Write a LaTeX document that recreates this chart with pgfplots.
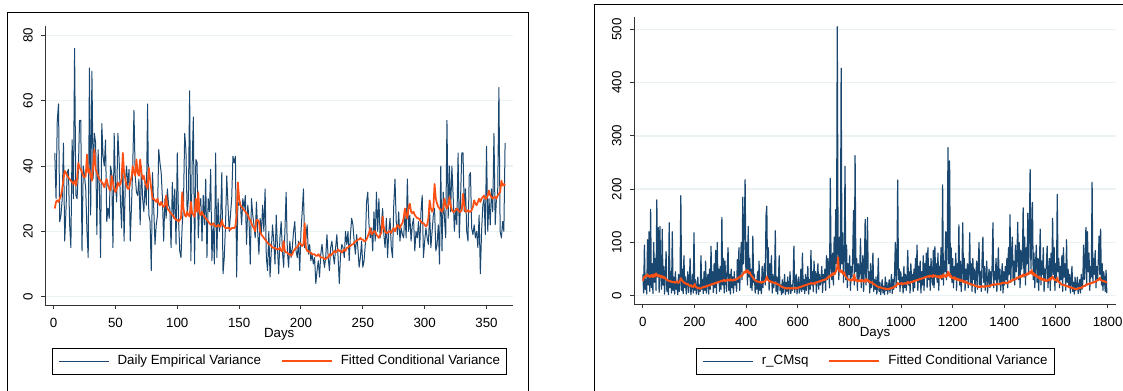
\documentclass[border=0pt]{standalone}
\usepackage{fontspec}
\setmainfont{Liberation Sans}
\usepackage{pgfplots}
\usepackage{pgfplotstable}
\pgfplotsset{compat=1.18}
\definecolor{sblue}{HTML}{1A476F}
\definecolor{sorange}{RGB}{255,80,20}
\definecolor{sgrid}{HTML}{EAF2F3}
\newcommand\fs{\fontsize{10}{12}\selectfont}

% Left panel: daily empirical variance (days 1..365)
\pgfplotstableread[row sep=\\,header=false]{
44\\30\\54\\59\\23\\25\\30\\47\\17\\26\\
38\\39\\22\\15\\48\\30\\76\\31\\30\\38\\
54\\54\\14\\40\\37\\33\\20\\12\\70\\25\\
69\\36\\50\\47\\19\\45\\34\\12\\53\\43\\
40\\48\\23\\27\\24\\40\\38\\15\\50\\35\\
29\\50\\42\\30\\21\\40\\17\\35\\40\\34\\
39\\17\\28\\40\\57\\37\\32\\31\\36\\22\\
40\\30\\26\\35\\28\\59\\25\\23\\8\\38\\
27\\16\\22\\25\\45\\41\\38\\30\\17\\30\\
24\\33\\28\\27\\15\\35\\24\\33\\16\\44\\
24\\14\\12\\22\\28\\50\\45\\25\\30\\63\\
11\\40\\55\\10\\42\\41\\18\\28\\30\\17\\
31\\22\\36\\12\\30\\26\\39\\11\\22\\10\\
44\\12\\30\\20\\23\\38\\7\\12\\22\\37\\
28\\20\\25\\30\\43\\41\\43\\6\\29\\28\\
29\\22\\30\\27\\31\\16\\28\\24\\10\\30\\
25\\22\\18\\29\\20\\13\\24\\19\\28\\20\\
33\\12\\8\\20\\6\\14\\22\\17\\10\\25\\
15\\7\\18\\23\\14\\9\\20\\32\\14\\9\\
17\\12\\15\\20\\23\\14\\12\\17\\8\\20\\
26\\33\\15\\18\\22\\13\\16\\11\\13\\10\\
12\\4\\8\\11\\6\\13\\16\\12\\9\\12\\
19\\12\\8\\15\\17\\13\\10\\15\\19\\12\\
4\\13\\16\\15\\12\\20\\16\\20\\11\\19\\
24\\22\\17\\13\\19\\15\\9\\12\\17\\9\\
11\\16\\29\\32\\22\\18\\21\\14\\26\\17\\
32\\20\\30\\18\\22\\27\\19\\15\\24\\12\\
20\\24\\15\\12\\28\\36\\23\\19\\26\\17\\
21\\19\\18\\26\\18\\36\\20\\25\\17\\22\\
24\\14\\20\\18\\23\\15\\26\\31\\12\\17\\
21\\18\\16\\26\\15\\20\\25\\27\\14\\16\\
22\\10\\40\\14\\32\\24\\18\\54\\24\\40\\
26\\40\\31\\20\\27\\22\\44\\18\\30\\44\\
44\\26\\33\\20\\17\\37\\38\\21\\19\\22\\
18\\20\\15\\25\\7\\20\\28\\30\\19\\46\\
20\\30\\22\\33\\26\\50\\22\\30\\31\\64\\
20\\18\\23\\20\\47\\
}\lblue

% Left panel: fitted conditional variance
\pgfplotstableread[row sep=\\,header=false]{
27\\29\\29.5\\29\\30\\31\\33\\36\\38.5\\38\\
37\\36.5\\36\\35.5\\35\\34.5\\35.5\\34\\36\\41\\
39.5\\39\\38\\37\\36.5\\37\\43.5\\38\\39\\37\\
35.5\\40\\45\\39\\38\\37\\36\\35.5\\35\\34.5\\
33.5\\35\\36\\34\\33\\32.5\\37\\35\\33\\32\\
33\\35\\34\\34.5\\36\\44\\38\\36\\34\\33\\
33\\35\\36.5\\40\\38\\37\\42\\38\\37\\42\\
38\\36\\37\\35\\34\\33\\39.5\\36\\33\\30\\
30\\29.5\\29\\30\\28.5\\28\\29\\28\\27.5\\28\\
31\\27\\26.5\\26\\25.5\\25\\24.5\\24\\23.5\\23.5\\
23\\23.5\\24\\32\\27\\25\\24.5\\26\\25\\24.5\\
29\\25.5\\25\\24.5\\30\\26\\32\\25.5\\25\\26\\
25\\24.5\\24\\23.5\\23\\22.5\\22\\22\\22.5\\22\\
21.5\\21.5\\22\\21.5\\21.5\\23.5\\22\\21.5\\21\\21\\
21\\21\\20.5\\21\\21\\21\\21.5\\25\\35\\30\\
28\\27.5\\27\\26.5\\26\\25.5\\25\\24\\23.5\\22.5\\
21.5\\21\\20\\23.5\\23.5\\23\\20\\19\\18.5\\18\\
17.5\\17\\16.5\\16\\16\\15.5\\15\\15\\15\\14.5\\
14.5\\14.5\\15\\14\\14\\17\\14\\13.5\\13.5\\13\\
13\\12.5\\13\\14\\14.5\\15\\15\\16\\16.5\\16\\
15.5\\16\\22.5\\15\\14\\14\\13.5\\13.5\\13\\13\\
13\\12.5\\12.5\\13\\12.5\\12\\12\\12\\11.5\\11.5\\
12\\12\\13\\12.5\\13\\13.5\\14\\13.5\\14\\14.5\\
14\\14\\13.5\\14\\14.5\\14\\15\\15\\15.5\\15.5\\
16\\16\\16.5\\17\\17\\17.5\\17.5\\18\\17.5\\17.5\\
17\\17\\17.5\\18.5\\19.5\\21\\19\\19.5\\20\\20\\
19\\18.5\\18\\19\\19.5\\24.5\\21\\20\\19.5\\19.5\\
20\\20\\19.5\\20.5\\21\\20\\21\\22\\21.5\\21\\
22\\22.5\\24\\27\\25\\24\\27.5\\28.5\\26\\25.5\\
26\\25\\24.5\\24\\24\\23.5\\23\\22.5\\22.5\\22\\
21.5\\22\\24\\29.5\\27\\26\\27\\34.5\\30\\28.5\\
27.5\\27\\26.5\\26\\27\\30\\28\\27\\28\\30.5\\
28\\26.5\\26\\26\\26.5\\27\\26.5\\26\\26\\26.5\\
31.5\\28\\26\\26\\26.5\\26\\26\\26.5\\27.5\\29.5\\
28.5\\28\\29\\30\\29\\30\\30.5\\31\\30\\30\\
31\\32.5\\31\\30.5\\30\\30.5\\30.5\\30\\31\\31.5\\
32\\35.5\\34\\34.5\\34\\
}\lorange

% Right panel: r_CMsq, every third day (days 0,3,...,1797)
\pgfplotstableread[row sep=\\,header=false]{
40\\5\\95\\12\\30\\3\\105\\20\\120\\8\\
162\\15\\60\\4\\100\\25\\70\\10\\180\\35\\
128\\6\\130\\45\\12\\125\\20\\55\\3\\40\\
83\\8\\30\\2\\137\\15\\45\\5\\120\\10\\
35\\3\\45\\12\\25\\2\\40\\8\\30\\188\\
10\\50\\4\\75\\15\\35\\3\\20\\45\\6\\
25\\70\\2\\18\\40\\5\\118\\10\\30\\3\\
15\\35\\2\\20\\8\\75\\12\\30\\4\\45\\
10\\65\\5\\28\\40\\3\\50\\12\\93\\20\\
45\\6\\60\\15\\85\\4\\100\\25\\50\\8\\
55\\12\\147\\20\\70\\5\\65\\30\\8\\55\\
90\\10\\40\\3\\50\\15\\35\\5\\45\\20\\
30\\8\\68\\25\\90\\10\\60\\100\\30\\185\\
60\\120\\218\\45\\100\\20\\130\\35\\70\\15\\
50\\10\\112\\25\\40\\5\\30\\12\\45\\3\\
65\\10\\25\\4\\55\\15\\40\\60\\20\\150\\
168\\30\\90\\10\\60\\25\\75\\5\\40\\15\\
30\\122\\8\\35\\3\\25\\75\\10\\20\\2\\
30\\5\\18\\40\\2\\25\\8\\35\\3\\15\\
45\\4\\20\\10\\30\\93\\6\\25\\40\\3\\
20\\35\\5\\15\\50\\8\\80\\12\\30\\4\\
40\\10\\25\\55\\3\\30\\12\\85\\20\\45\\
8\\65\\25\\45\\5\\35\\60\\12\\40\\20\\
30\\55\\6\\40\\25\\50\\10\\75\\30\\70\\
45\\15\\220\\60\\30\\80\\20\\110\\40\\162\\
60\\505\\80\\30\\110\\45\\427\\60\\118\\25\\
70\\243\\30\\95\\15\\60\\40\\75\\10\\55\\
35\\80\\160\\20\\263\\45\\70\\10\\60\\30\\
50\\107\\15\\40\\75\\8\\55\\143\\20\\60\\
147\\25\\45\\5\\60\\15\\35\\80\\8\\30\\
12\\35\\3\\20\\70\\8\\25\\2\\15\\30\\
5\\18\\2\\35\\10\\25\\3\\15\\30\\6\\
20\\40\\4\\30\\12\\45\\100\\15\\50\\217\\
30\\50\\8\\45\\20\\35\\5\\55\\15\\40\\
10\\30\\85\\20\\45\\5\\60\\25\\40\\8\\
50\\15\\70\\30\\95\\10\\55\\25\\65\\5\\
45\\20\\75\\10\\60\\35\\80\\15\\90\\30\\
55\\10\\70\\40\\20\\85\\15\\92\\35\\60\\
25\\80\\10\\55\\40\\90\\30\\208\\20\\65\\
45\\120\\30\\100\\278\\60\\253\\40\\90\\25\\
70\\15\\55\\35\\80\\10\\60\\30\\133\\20\\
65\\8\\45\\137\\25\\70\\10\\50\\30\\60\\
15\\45\\118\\20\\60\\8\\70\\30\\50\\5\\
40\\65\\12\\55\\100\\20\\45\\8\\70\\110\\
25\\55\\10\\40\\65\\5\\30\\50\\15\\45\\
20\\60\\137\\15\\45\\30\\70\\8\\40\\90\\
25\\50\\10\\35\\60\\5\\45\\20\\55\\30\\
70\\15\\90\\40\\152\\25\\80\\110\\30\\65\\
20\\95\\45\\75\\138\\30\\100\\15\\85\\50\\
70\\165\\35\\110\\20\\90\\60\\155\\40\\120\\
237\\50\\110\\175\\30\\80\\15\\60\\95\\25\\
70\\10\\55\\125\\20\\65\\40\\90\\8\\50\\
30\\60\\93\\15\\45\\70\\10\\80\\35\\145\\
40\\90\\10\\60\\25\\190\\45\\70\\15\\55\\
30\\75\\8\\90\\35\\60\\10\\105\\25\\50\\
15\\40\\5\\30\\55\\8\\25\\3\\35\\10\\
20\\35\\4\\15\\30\\5\\40\\12\\25\\95\\
30\\60\\128\\20\\120\\45\\80\\10\\55\\35\\
213\\25\\70\\40\\85\\15\\55\\30\\65\\112\\
40\\125\\20\\60\\10\\45\\30\\8\\48\\5\\
}\rblue

% Right panel: fitted conditional variance, every third day
\pgfplotstableread[row sep=\\,header=false]{
28\\33\\36\\35\\38\\37\\40\\36\\38\\35\\
37\\39\\36\\35\\40\\38\\36\\42\\38\\37\\
39\\36\\38\\35\\37\\34\\36\\33\\35\\32\\
31\\30\\28\\29\\27\\28\\26\\27\\25\\26\\
25\\26\\24\\25\\27\\25\\24\\26\\28\\33\\
30\\28\\26\\25\\23\\24\\22\\21\\22\\20\\
19\\18\\20\\17\\18\\16\\19\\22\\17\\16\\
15\\14\\15\\14\\13\\14\\15\\16\\15\\17\\
16\\18\\17\\19\\18\\20\\19\\21\\20\\22\\
21\\23\\22\\24\\23\\25\\24\\26\\25\\27\\
26\\28\\27\\29\\28\\30\\27\\29\\28\\30\\
29\\30\\28\\31\\29\\30\\28\\30\\31\\29\\
30\\32\\31\\33\\35\\34\\36\\38\\37\\40\\
42\\45\\43\\47\\44\\48\\45\\42\\44\\40\\
38\\36\\34\\32\\30\\29\\28\\27\\26\\27\\
26\\25\\26\\24\\26\\25\\27\\26\\28\\30\\
36\\31\\29\\27\\28\\26\\25\\26\\24\\25\\
24\\23\\24\\22\\21\\22\\20\\19\\18\\17\\
16\\15\\16\\14\\15\\14\\13\\14\\15\\13\\
14\\13\\15\\14\\13\\14\\15\\14\\13\\15\\
14\\16\\15\\17\\16\\18\\17\\19\\18\\20\\
19\\21\\20\\22\\21\\23\\22\\24\\23\\22\\
23\\24\\22\\25\\24\\26\\25\\27\\26\\28\\
27\\29\\28\\30\\29\\31\\30\\32\\33\\35\\
34\\37\\36\\40\\38\\42\\39\\43\\41\\45\\
48\\55\\72\\50\\45\\48\\44\\47\\42\\40\\
44\\38\\36\\34\\32\\30\\31\\29\\30\\28\\
30\\32\\29\\40\\31\\28\\30\\27\\29\\28\\
27\\29\\26\\30\\28\\27\\29\\26\\31\\28\\
30\\27\\28\\25\\26\\24\\25\\22\\23\\21\\
20\\19\\18\\17\\17\\16\\15\\16\\15\\14\\
14\\13\\14\\13\\12\\13\\12\\13\\12\\14\\
13\\15\\14\\16\\15\\17\\19\\18\\21\\24\\
22\\21\\23\\22\\24\\21\\23\\22\\24\\23\\
22\\24\\26\\23\\25\\24\\26\\25\\27\\26\\
28\\27\\29\\28\\30\\29\\31\\30\\32\\31\\
33\\32\\34\\33\\35\\34\\36\\35\\37\\36\\
35\\38\\36\\37\\35\\39\\36\\38\\37\\36\\
35\\37\\34\\36\\33\\38\\35\\34\\40\\36\\
38\\35\\40\\37\\45\\38\\42\\35\\37\\33\\
34\\32\\35\\31\\33\\30\\32\\29\\31\\28\\
30\\27\\29\\26\\28\\25\\27\\24\\26\\23\\
24\\22\\23\\21\\22\\20\\21\\19\\20\\18\\
19\\17\\18\\16\\17\\16\\18\\16\\17\\18\\
17\\16\\18\\17\\19\\18\\17\\19\\18\\20\\
19\\21\\20\\22\\21\\20\\22\\21\\23\\22\\
21\\23\\22\\24\\23\\25\\24\\23\\25\\24\\
23\\25\\24\\27\\26\\28\\27\\30\\29\\31\\
30\\32\\31\\34\\33\\35\\34\\37\\35\\38\\
36\\40\\37\\39\\38\\41\\39\\42\\40\\44\\
45\\42\\48\\40\\43\\38\\41\\37\\39\\35\\
36\\33\\35\\31\\33\\30\\32\\29\\31\\28\\
30\\27\\29\\28\\31\\29\\33\\30\\34\\36\\
33\\31\\29\\30\\28\\34\\27\\26\\25\\23\\
22\\21\\20\\21\\19\\20\\18\\19\\17\\18\\
16\\17\\15\\16\\14\\15\\13\\14\\12\\13\\
12\\13\\14\\13\\15\\14\\16\\15\\17\\18\\
19\\18\\21\\20\\22\\21\\23\\22\\24\\23\\
25\\24\\26\\25\\27\\26\\28\\30\\29\\32\\
34\\30\\29\\28\\27\\28\\26\\27\\25\\26\\
}\rorange

\pgfplotsset{stata/.style={
  anchor=south west, scale only axis,
  axis lines=left, axis line style={-, draw=black!80, line width=0.75pt},
  tick align=outside, major tick length=3pt,
  tick style={draw=black!80, line width=0.75pt},
  ymajorgrids, grid style={draw=sgrid, line width=1pt},
  /pgf/number format/assume math mode=true,
  /pgf/number format/1000 sep={},
  scaled ticks=false,
  tick label style={font=\fs},
  xticklabel style={anchor=north, inner sep=0pt},
  yticklabel style={rotate=90, anchor=south, inner sep=0pt},
  xticklabel shift=6.75pt, yticklabel shift=6.3pt,
  xlabel={Days},
  xlabel style={font=\fs, inner sep=0pt, at={(axis description cs:0.5,0)}, anchor=north, yshift=-17.6pt},
  legend columns=2, legend cell align=left,
  legend style={anchor=north, fill=white, font=\fs,
    inner xsep=5pt, inner ysep=4.9pt,
    nodes={inner sep=0pt, text height=7.5pt, text depth=2.2pt},
    /tikz/every odd column/.append style={column sep=6pt},
    /tikz/every even column/.append style={column sep=15pt}},
  legend image post style={xscale=2.2},
}}

\begin{document}
\begin{tikzpicture}
\useasboundingbox (0,0) rectangle (842.25pt,292.5pt);
\draw[black, line width=0.75pt] (5.25pt,-10pt) -- (5.25pt,282.75pt) -- (396pt,282.75pt) -- (396pt,-10pt);
\draw[black, line width=0.75pt] (446.1pt,-10pt) -- (446.1pt,289.3pt) -- (860pt,289.3pt);

\begin{axis}[stata, at={(34.05pt,63.75pt)}, width=350.7pt, height=209.25pt,
  xmin=-6.6, xmax=371.4, ymin=-2.54, ymax=82.85,
  xtick={0,50,...,350}, ytick={0,20,...,80},
  legend style={at={(0.5,-0.1541)}}]
\addplot[sblue, line width=0.75pt, line join=round] table[x expr=\coordindex+1, y index=0]{\lblue};
\addlegendentry{Daily Empirical Variance}
\addplot[sorange, line width=1.3pt, line join=round] table[x expr=\coordindex+1, y index=0]{\lorange};
\addlegendentry{Fitted Conditional Variance}
\end{axis}

\begin{axis}[stata, at={(475.7pt,64.5pt)}, width=361.1pt, height=215pt,
  xmin=-33.3, xmax=1831.6, ymin=-15.6, ymax=522.5,
  xtick={0,200,...,1800}, ytick={0,100,...,500},
  legend style={at={(0.5,-0.1535)}}]
\addplot[sblue, line width=0.9pt, line join=round] table[x expr=\coordindex*3, y index=0]{\rblue};
\addlegendentry{r\_CMsq}
\addplot[sorange, line width=1.4pt, line join=round] table[x expr=\coordindex*3, y index=0]{\rorange};
\addlegendentry{Fitted Conditional Variance}
\end{axis}
\end{tikzpicture}
\end{document}
